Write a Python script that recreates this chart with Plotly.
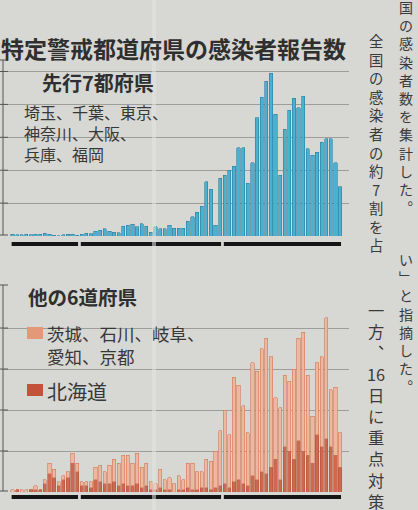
import plotly.graph_objects as go
import pandas as pd

# ---- data ----
dates = pd.date_range("2020-02-15", "2020-04-26", freq="D")

top7 = [5, 4, 4, 5, 4, 6, 6, 8, 6, 2, 1, 4, 5, 5, 3, 6, 8, 7, 15, 18, 22, 14, 12, 10,
        30, 33, 35, 28, 38, 30, 12,
        28, 22, 22, 33, 24, 24, 24, 45, 58, 72, 90, 165, 142, 33, 175, 185, 200, 212,
        268, 268, 160, 222, 360, 422, 470, 495, 370, 185, 325, 382, 418, 390, 425,
        265, 245, 255, 285, 295, 295, 222, 150]

hokkaido = [0, 1, 0, 0, 1, 1, 1, 4, 9, 7, 3, 6, 7, 14, 10, 3, 3, 2, 6, 5, 4, 4, 5, 3,
            4, 3, 3, 4, 2, 3, 1,
            1, 2, 1, 1, 0, 1, 1, 2, 1, 1, 2, 2, 1, 2, 3, 4, 2, 5, 6, 4, 3, 8, 6, 10,
            9, 12, 16, 6, 22, 20, 16, 25, 20, 18, 14, 28, 22, 26, 22, 18, 12]

others6 = [1, 0, 1, 1, 0, 2, 0, 2, 5, 4, 2, 2, 3, 5, 4, 2, 2, 3, 6, 8, 6, 9, 11, 11,
           14, 15, 11, 15, 10, 11, 4,
           3, 9, 5, 6, 4, 7, 5, 12, 13, 9, 8, 14, 14, 18, 27, 36, 26, 51, 46, 38, 26,
           55, 53, 60, 66, 54, 30, 35, 35, 34, 44, 50, 58, 39, 23, 35, 44, 59, 28, 33, 17]

month_labels = {2: "2月", 3: "3", 4: "4"}
top_ticks = [100, 200, 300, 400, 500]
bottom_ticks = [20, 40, 60, 80]

title_text = "特定警戒都道府県の感染者報告数"
top_head = "先行7都府県"
top_lines = ["埼玉、千葉、東京、", "神奈川、大阪、", "兵庫、福岡"]
bottom_head = "他の6道府県"
legend_others = ["茨城、石川、岐阜、", "愛知、京都"]
legend_hokkaido = "北海道"

col1_a = ["国", "の", "感", "染", "者", "数", "を", "集", "計", "し", "た", "︒"]
col1_b = ["い", "﹂", "と", "指", "摘", "し", "た", "︒"]
col2_a = ["全", "国", "の", "感", "染", "者", "の", "約", "7", "割", "を", "占"]
col2_b = ["一", "方", "︑", "16", "日", "に", "重", "点", "対", "策"]

# ---- helpers ----
W, H = 418, 510
def px(x):
    return x / W
def py(y):
    return 1 - y / H

BG = "#d7d7d3"
TXT = "#2f2f2f"
FONT = "Noto Sans CJK JP"

x = list(range(len(dates)))
xr = [-1.85, 72.93]

fig = go.Figure()
fig.add_trace(go.Bar(x=x, y=top7, width=0.7, xaxis="x", yaxis="y",
                     marker=dict(color="#4cb0cf", line=dict(color="#2a7ea2", width=0.6)),
                     showlegend=False))
fig.add_trace(go.Bar(x=x, y=hokkaido, width=0.7, xaxis="x2", yaxis="y2",
                     marker=dict(color="#cc6a50", line=dict(color="#b8543a", width=0.6)),
                     showlegend=False))
fig.add_trace(go.Bar(x=x, y=others6, width=0.7, xaxis="x2", yaxis="y2",
                     marker=dict(color="#ecb9a0", line=dict(color="#d47455", width=0.6)),
                     showlegend=False))

axis_x = dict(range=xr, domain=[px(4), px(349)], showgrid=False, zeroline=False,
              showticklabels=False, showline=False, ticks="")
fig.update_layout(
    width=W, height=H, autosize=False,
    margin=dict(l=0, r=0, t=0, b=0),
    paper_bgcolor=BG, plot_bgcolor="rgba(0,0,0,0)",
    barmode="stack",
    xaxis=dict(axis_x, anchor="y"),
    xaxis2=dict(axis_x, anchor="y2"),
    yaxis=dict(domain=[py(236), py(60)], range=[0, 535], tickmode="array",
               tickvals=top_ticks, showgrid=True, gridcolor="#9d9d9a", gridwidth=1,
               zeroline=False, showticklabels=False, ticks="", anchor="x"),
    yaxis2=dict(domain=[py(492), py(285)], range=[0, 101], tickmode="array",
                tickvals=bottom_ticks, showgrid=True, gridcolor="#9d9d9a", gridwidth=1,
                zeroline=False, showticklabels=False, ticks="", anchor="x2"),
    showlegend=False,
)

shapes = []
months = [d.month for d in dates]
groups = {}
for i, m in enumerate(months):
    groups.setdefault(m, []).append(i)
annotations = []
for m, idx in groups.items():
    for xref, yy in (("x", 244), ("x2", 497)):
        shapes.append(dict(type="line", xref=xref, yref="paper",
                           x0=idx[0] - 0.2, x1=idx[-1] + 0.2, y0=py(yy), y1=py(yy),
                           line=dict(color="#151515", width=4)))
    annotations.append(dict(text=month_labels[m], x=(idx[0] + idx[-1]) / 2, xref="x2",
                            y=py(502), yref="paper", yanchor="top", xanchor="center",
                            showarrow=False, font=dict(family=FONT, size=18, color=TXT)))

for (ytop, ybot, yref, ticks) in ((60, 235, "y", top_ticks), (285, 491, "y2", bottom_ticks)):
    shapes.append(dict(type="line", xref="paper", yref="paper", x0=px(3), x1=px(3),
                       y0=py(ytop), y1=py(ybot), line=dict(color="#555", width=1)))
    for yp in (ytop, ybot):
        shapes.append(dict(type="line", xref="paper", yref="paper", x0=px(0), x1=px(8),
                           y0=py(yp), y1=py(yp), line=dict(color="#555", width=1)))
    for t in ticks:
        shapes.append(dict(type="line", xref="paper", yref=yref, x0=px(0), x1=px(8),
                           y0=t, y1=t, line=dict(color="#555", width=1)))

for (x0, y0, x1, y1) in ((20, 62, 215, 80), (20, 80, 178, 160), (20, 284, 194, 345)):
    shapes.append(dict(type="rect", xref="paper", yref="paper", x0=px(x0), x1=px(x1),
                       y0=py(y1), y1=py(y0), fillcolor=BG, line=dict(width=0),
                       layer="between"))

shapes.append(dict(type="rect", xref="paper", yref="paper", x0=px(27), x1=px(43),
                   y0=py(339), y1=py(327), fillcolor="#e39877", line=dict(width=0)))
shapes.append(dict(type="rect", xref="paper", yref="paper", x0=px(27), x1=px(43),
                   y0=py(396), y1=py(384), fillcolor="#c2533a", line=dict(width=0)))

shapes.append(dict(type="rect", xref="paper", yref="paper", x0=px(152), x1=px(156),
                   y0=0, y1=1, fillcolor="#e4e4e1", opacity=0.55, line=dict(width=0),
                   layer="above"))

def ann(text, x, y, size, bold=False, color=TXT, xanchor="left", yanchor="middle",
        align="left"):
    t = f"<b>{text}</b>" if bold else text
    annotations.append(dict(text=t, x=px(x), y=py(y), xref="paper", yref="paper",
                            xanchor=xanchor, yanchor=yanchor, showarrow=False,
                            align=align, borderpad=0,
                            font=dict(family=FONT, size=size, color=color)))

ann(title_text, 0, 48, 23, bold=True)
ann(top_head, 41, 83, 20, bold=True)
ann("<br>".join(top_lines), 23, 99, 16, color="#383838", yanchor="top")
ann(bottom_head, 27, 296, 19.5, bold=True)
ann("<br>".join(legend_others), 46, 320, 17.5, color="#383838", yanchor="top")
ann(legend_hokkaido, 46, 391, 20, color="#383838")

# vertical newspaper text on the right (one annotation per column piece)
def column(chars, xc, ytop, size):
    ann("<br>".join(chars), xc, ytop, size, color="#3a3a3a", xanchor="center",
        yanchor="top", align="center")

column(col1_a, 406, -4, 14)
column(col1_b, 406, 248, 14)
column(col2_a, 376, 29, 14.3)
column(col2_b, 376, 297, 16.3)

fig.update_layout(shapes=shapes, annotations=annotations)
fig.write_html("out.html", config={"displayModeBar": False},
               post_script="document.body.style.margin='0';")
